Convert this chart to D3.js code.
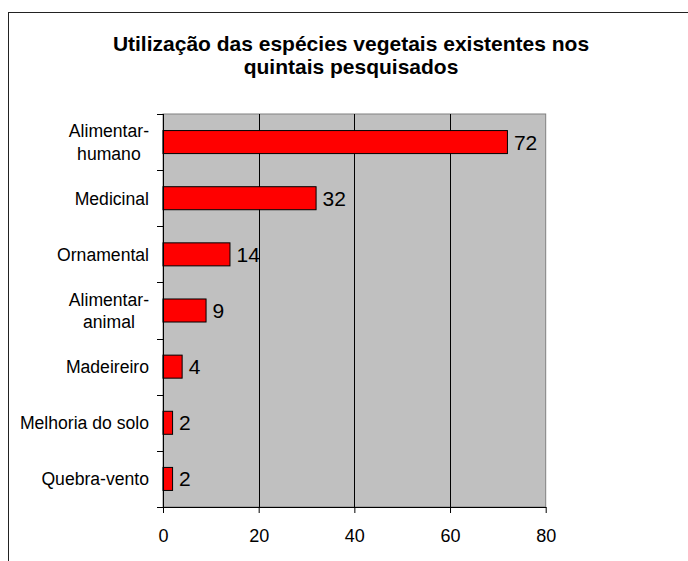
<!DOCTYPE html>
<html><head><meta charset="utf-8">
<script src="https://cdn.jsdelivr.net/npm/d3@7"></script>
<style>body{margin:0;background:#fff}svg{display:block;font-family:"Liberation Sans",Arial,sans-serif}</style>
</head><body>
<svg id="c" width="688" height="561"></svg>
<script>
const categories = [["Alimentar-","humano"],["Medicinal"],["Ornamental"],["Alimentar-","animal"],["Madeireiro"],["Melhoria do solo"],["Quebra-vento"]];
const values = [72, 32, 14, 9, 4, 2, 2];
const xTicks = [0, 20, 40, 60, 80];
const titleLines = ["Utilização das espécies vegetais existentes nos", "quintais pesquisados"];

const svg = d3.select("#c");
// outer border
svg.append("rect").attr("x",8.5).attr("y",12.5).attr("width",700).attr("height",600)
  .attr("fill","none").attr("stroke","#222").attr("stroke-width",1);

const L=163, R=545.7, T=114, B=507;
const x = d3.scaleLinear().domain([0,80]).range([L,R]);
const idx = d3.range(categories.length);
const y = d3.scaleBand().domain(idx).range([T,B]).paddingInner(0.59).paddingOuter(0.295);
const yb = d3.scaleBand().domain(idx).range([T,B]);

svg.append("rect").attr("x",L).attr("y",T).attr("width",R-L).attr("height",B-T)
  .attr("fill","#c0c0c0").attr("stroke","#808080").attr("stroke-width",1);

// gridlines
svg.append("g").selectAll("line").data(xTicks.slice(1,-1)).join("line")
  .attr("x1",d=>Math.round(x(d))+0.5).attr("x2",d=>Math.round(x(d))+0.5)
  .attr("y1",T).attr("y2",B).attr("stroke","#000").attr("stroke-width",1);

// bars
svg.append("g").selectAll("rect").data(values).join("rect")
  .attr("x",x(0)).attr("y",(d,i)=>y(i)).attr("width",d=>x(d)-x(0)).attr("height",y.bandwidth())
  .attr("fill","#ff0000").attr("stroke","#000").attr("stroke-width",1);

// value labels
svg.append("g").selectAll("text").data(values).join("text")
  .attr("x",d=>x(d)+6.5).attr("y",(d,i)=>y(i)+y.bandwidth()/2).attr("dy","0.36em")
  .attr("font-size",21).attr("fill","#000").text(d=>d);

// left axis
const ya = svg.append("g");
ya.append("line").attr("x1",L+0.5).attr("x2",L+0.5).attr("y1",T).attr("y2",B).attr("stroke","#000");
ya.selectAll("line.t").data(d3.range(categories.length+1)).join("line").attr("class","t")
  .attr("x1",L-6).attr("x2",L).attr("y1",i=>Math.round(T+i*yb.step())+0.5).attr("y2",i=>Math.round(T+i*yb.step())+0.5)
  .attr("stroke","#000");
const cl = ya.selectAll("text").data(categories).join("text")
  .attr("text-anchor","middle").attr("font-size",17.6).attr("fill","#000");
const rightEdge = L-14;
cl.each(function(lines,i){
  const cy = y(i)+y.bandwidth()/2;
  const n = lines.length, lh = 22.6;
  const t = d3.select(this);
  const sp = t.selectAll("tspan").data(lines).join("tspan")
    .attr("x",0).attr("y",(l,j)=>cy+(j-(n-1)/2)*lh).attr("dy","0.36em").text(l=>l);
  let w = 0;
  sp.each(function(){ w = Math.max(w, this.getComputedTextLength()); });
  sp.attr("x", rightEdge - w/2);
});

// bottom axis
const xa = svg.append("g").attr("transform",`translate(0,${B})`);
xa.call(d3.axisBottom(x).tickValues(xTicks).tickSize(6).tickPadding(16).tickSizeOuter(0));
xa.select(".domain").attr("stroke","#000");
xa.selectAll(".tick line").attr("stroke","#000");
xa.selectAll("text").attr("font-size",18).attr("fill","#000").attr("font-family","Liberation Sans, Arial, sans-serif");

// title
svg.append("text").attr("text-anchor","middle").attr("font-size",21).attr("font-weight","bold")
  .selectAll("tspan").data(titleLines).join("tspan")
  .attr("x",351).attr("y",(d,i)=>51+i*22.5).text(d=>d);
</script>
</body></html>
